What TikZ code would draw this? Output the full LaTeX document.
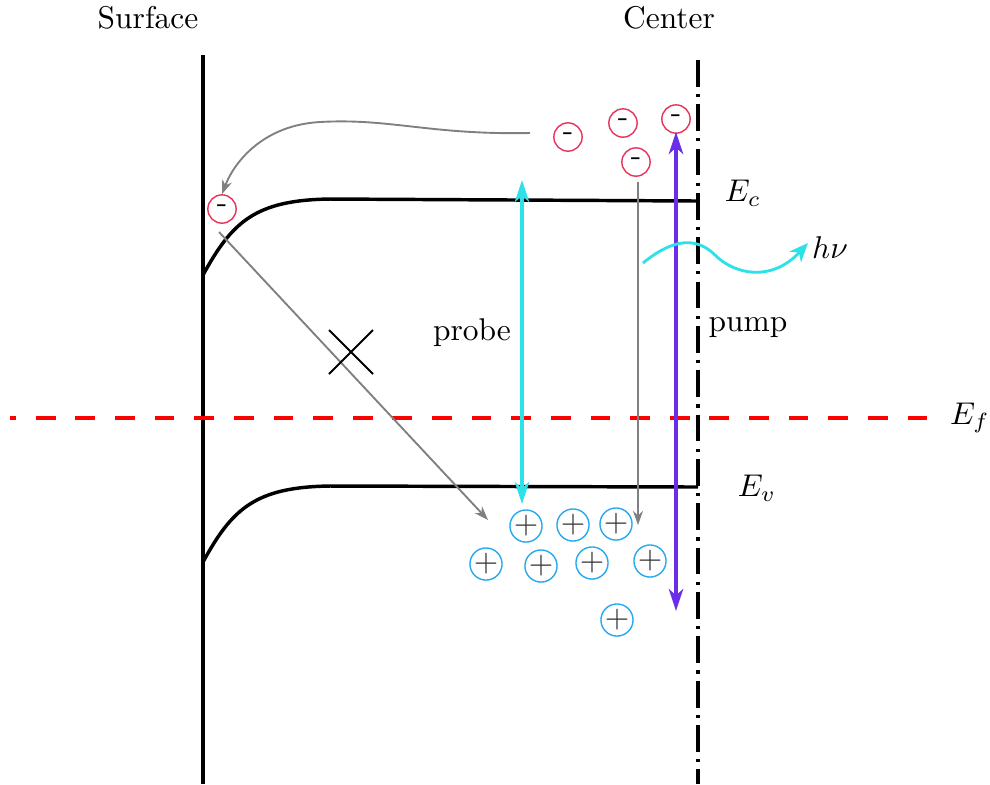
\documentclass[tikz,border=0pt]{standalone}
\usetikzlibrary{arrows.meta}
\definecolor{elec}{HTML}{E8335A}
\definecolor{hole}{HTML}{2AAAEE}
\definecolor{probec}{HTML}{2EE0E8}
\definecolor{pumpc}{HTML}{6A2EE8}
\definecolor{plusc}{HTML}{333333}
\begin{document}
\begin{tikzpicture}[x=0.318pt,y=-0.318pt,
  band/.style={line width=1.1pt},
  electron/.style={circle,draw=elec,line width=0.45pt,minimum size=9pt,inner sep=0pt},
  holec/.style={circle,draw=hole,line width=0.45pt,minimum size=9.6pt,inner sep=0pt,text=plusc},
  grayarr/.style={draw=gray,line width=0.6pt,-{Stealth[length=4.5pt,width=3.2pt]}},
  bigarr/.style={line width=1.1pt,{Stealth[length=7pt,width=4.6pt,inset=2pt]}-{Stealth[length=7pt,width=4.6pt,inset=2pt]}},
  lbl/.style={inner sep=1pt}]
\useasboundingbox (0,0) rectangle (990,784);
% labels
\node[lbl] (surf) at (148,18) {Surface};
\node[lbl] (cent) at (669,18) {Center};
\node[lbl] (ec) at (743,193) {$E_c$};
\node[lbl] (ev) at (757,488) {$E_v$};
\node[lbl] (ef) at (970,418) {$E_f$};
\node[lbl] (hnu) at (830,248) {$h\nu$};
\node[lbl] (probe) at (472,333) {probe};
\node[lbl] (pump) at (748,328) {pump};
% structural lines
\coordinate (sT) at (203,55);
\coordinate (sB) at (203,784);
\coordinate (cT) at (698,60);
\coordinate (cB) at (698,784);
\draw[line width=1.1pt] (sT) -- (sB);
\draw[line width=1.1pt,dash pattern=on 8.5pt off 2.3pt on 1pt off 2.3pt] (cT) -- (cB);
\coordinate (fL) at (10,418);
\coordinate (fR) at (935,418);
\draw[red,line width=1pt,dash pattern=on 6.3pt off 6.3pt,dash phase=4.4pt] (fL) -- (fR);
% bands
\coordinate (cb0) at (203,275);
\coordinate (cb1) at (330,199);
\coordinate (cb2) at (698,201);
\draw[band] (cb0) .. controls (232,222) and (255,200) .. (cb1) -- (cb2);
\coordinate (vb0) at (203,562);
\coordinate (vb1) at (330,486);
\coordinate (vb2) at (698,487);
\draw[band] (vb0) .. controls (232,509) and (255,487) .. (vb1) -- (vb2);
% electrons
\node[electron] (e1) at (568,137) {-};
\node[electron] (e2) at (623,123) {-};
\node[electron] (e3) at (676,119) {-};
\node[electron] (e4) at (636,162) {-};
\node[electron] (e5) at (222,209) {-};
% holes
\node[holec] (h1) at (526,526) {$+$};
\node[holec] (h2) at (573,525) {$+$};
\node[holec] (h3) at (616,524) {$+$};
\node[holec] (h4) at (486,564) {$+$};
\node[holec] (h5) at (541,566) {$+$};
\node[holec] (h6) at (592,563) {$+$};
\node[holec] (h7) at (650,561) {$+$};
\node[holec] (h8) at (617,620) {$+$};
% probe & pump
\coordinate (prT) at (522,180);
\coordinate (prB) at (522,504);
\draw[bigarr,probec] (prT) -- (prB);
\coordinate (puT) at (676,132);
\coordinate (puB) at (676,611);
\draw[bigarr,pumpc] (puT) -- (puB);
% gray arrows
\coordinate (g1s) at (530,133);
\draw[grayarr] (g1s) .. controls (430,135) and (390,118) .. (320,122) .. controls (265,125) and (235,160) .. (e5.north);
\coordinate (g2s) at (219,232);
\coordinate (g2e) at (488,520);
\draw[grayarr] (g2s) -- (g2e);
\coordinate (g3s) at (638,182);
\coordinate (g3e) at (638,525);
\draw[grayarr] (g3s) -- (g3e);
% cross
\coordinate (x1) at (329,330);
\coordinate (x2) at (373,374);
\coordinate (x3) at (373,330);
\coordinate (x4) at (329,374);
\draw[line width=0.6pt] (x1) -- (x2) (x3) -- (x4);
% photon
\coordinate (w0) at (643,263);
\coordinate (w1) at (715,255);
\coordinate (w2) at (808,243);
\draw[probec,line width=0.9pt,-{Stealth[length=6pt,width=5pt,inset=1.8pt]}] (w0) .. controls (665,245) and (692,232) .. (w1) .. controls (735,275) and (772,282) .. (w2);
\end{tikzpicture}
\end{document}
